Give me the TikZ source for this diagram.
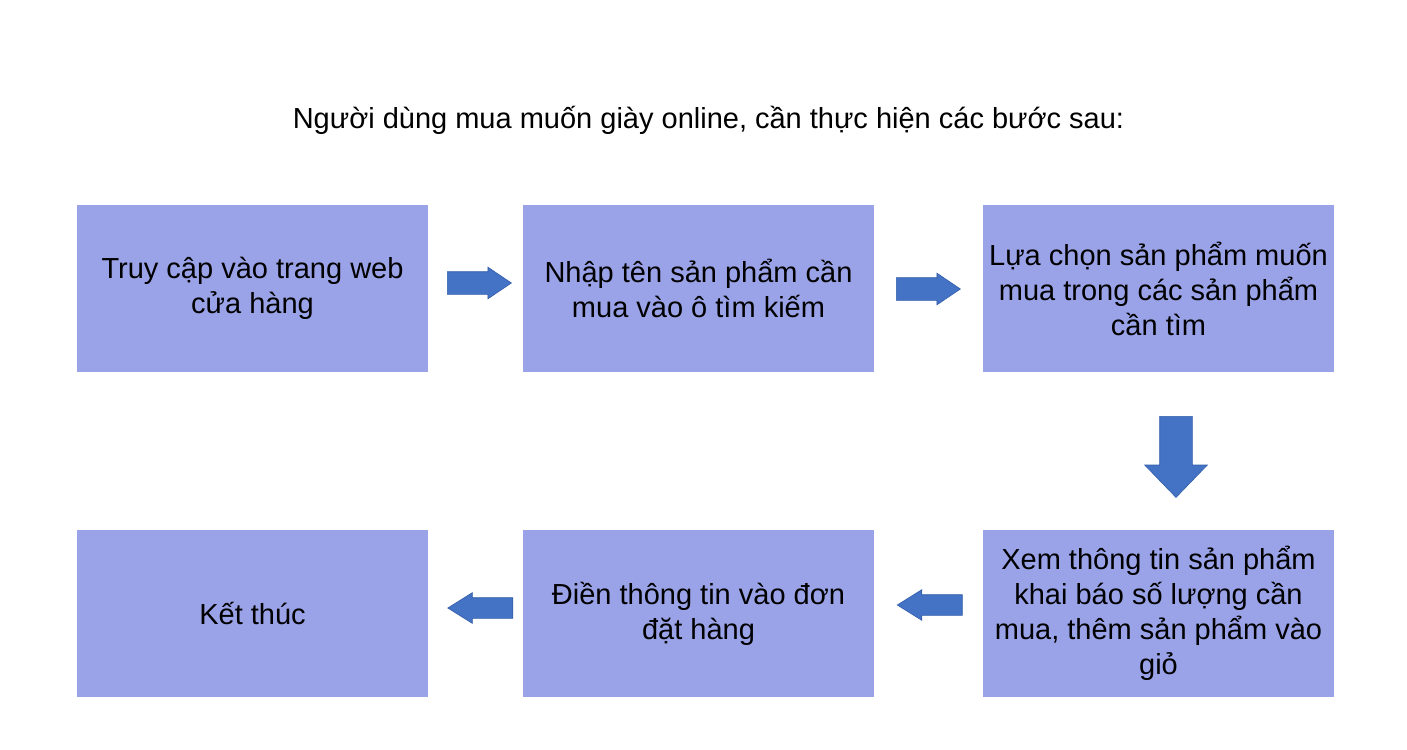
\documentclass[tikz,border=0pt]{standalone}
\usepackage{fontspec}
\setmainfont{Liberation Sans}
\usetikzlibrary{shapes.arrows}
\definecolor{boxfill}{RGB}{154,163,232}
\definecolor{arrfill}{RGB}{68,114,196}
\definecolor{arrdraw}{RGB}{52,94,170}
\begin{document}
\begin{tikzpicture}[x=1pt,y=-1pt,
  stepbox/.style={draw=none,fill=boxfill,minimum width=351pt,minimum height=167pt,
    align=center,inner sep=0pt,font=\fontsize{29}{35}\selectfont,text=black},
  blockarrow/.style={single arrow,fill=arrfill,draw=arrdraw,line width=0.6pt,inner xsep=0pt,
    single arrow head indent=0pt}]
\useasboundingbox (0,0) rectangle (1407,749);
\node[font=\fontsize{29}{35}\selectfont] (title) at (708.5,120) {Người dùng mua muốn giày online, cần thực hiện các bước sau:};
\node[stepbox] (b1) at (252.5,288.5) {Truy cập vào trang web\\cửa hàng};
\node[stepbox] (b2) at (698.5,288.5) {Nhập tên sản phẩm cần\\mua vào ô tìm kiếm};
\node[stepbox] (b3) at (1158.5,288.5) {Lựa chọn sản phẩm muốn\\mua trong các sản phẩm\\cần tìm};
\node[stepbox] (b4) at (1158.5,613.5) {Xem thông tin sản phẩm\\khai báo số lượng cần\\mua, thêm sản phẩm vào\\giỏ};
\node[stepbox] (b5) at (698.5,613.5) {Điền thông tin vào đơn\\đặt hàng};
\node[stepbox] (b6) at (252.5,613.5) {Kết thúc};
\node[blockarrow,inner ysep=11pt,single arrow head extend=4.5pt,single arrow tip angle=68,minimum height=64pt] (a1) at (471,283) {};
\node[blockarrow,inner ysep=11pt,single arrow head extend=4.5pt,single arrow tip angle=68,minimum height=64pt] (a2) at (920,289) {};
\node[blockarrow,rotate=-90,inner ysep=16pt,single arrow head extend=15pt,single arrow tip angle=88,minimum height=81pt] (a3) at (1176,448.5) {};
\node[blockarrow,rotate=180,inner ysep=10pt,single arrow head extend=5pt,single arrow tip angle=64,minimum height=65pt] (a4) at (938,605) {};
\node[blockarrow,rotate=180,inner ysep=10pt,single arrow head extend=5pt,single arrow tip angle=64,minimum height=65pt] (a5) at (488.5,608) {};
\end{tikzpicture}
\end{document}
